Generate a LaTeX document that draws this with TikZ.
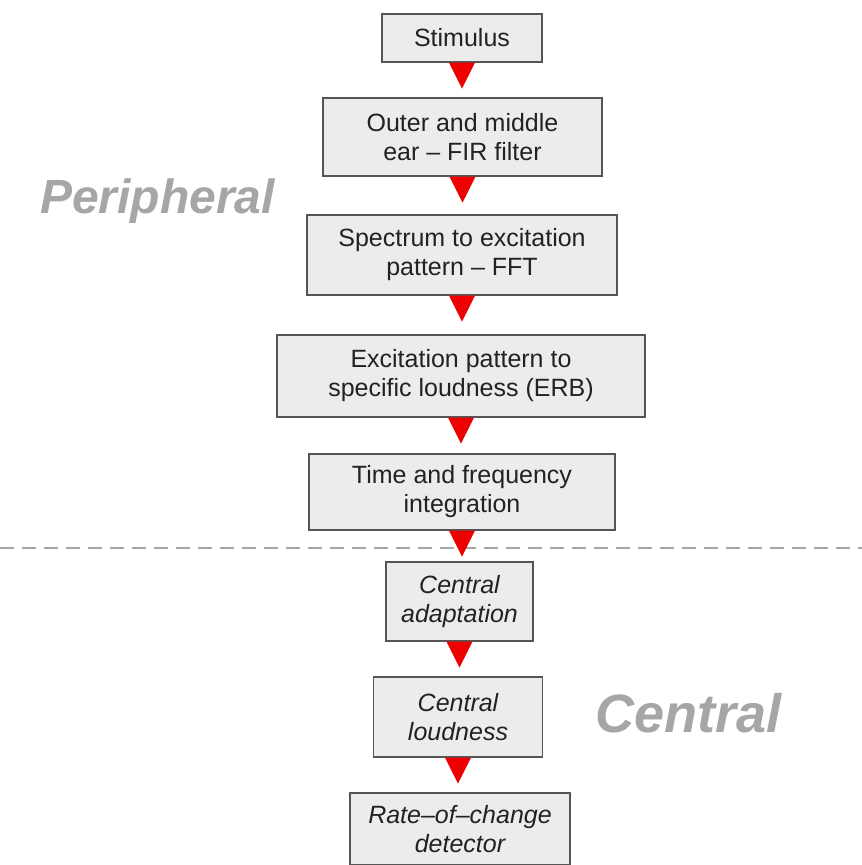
\documentclass[tikz,border=0pt]{standalone}
\usepackage{fontspec}
\setmainfont{Liberation Sans}
\usetikzlibrary{calc,shadows}
\definecolor{boxfill}{HTML}{ECECEC}
\definecolor{boxline}{HTML}{555555}
\definecolor{labelgray}{HTML}{A6A6A6}
\definecolor{arrowred}{HTML}{EE0000}
\definecolor{textdark}{HTML}{222222}
\tikzset{
  stagebox/.style={draw=boxline, line width=1.3pt, fill=boxfill, inner sep=0pt,
    align=center, text=textdark, font=\fontsize{25}{29}\selectfont,
    drop shadow={shadow xshift=0.8pt, shadow yshift=-1.2pt, fill=black!55, opacity=0.8}},
  centralbox/.style={stagebox, font=\fontsize{25}{29}\selectfont\itshape},
  region/.style={text=labelgray, inner sep=0pt, font=\bfseries\itshape},
  flowarrow/.style={fill=arrowred},
  divider/.style={draw=black!35, line width=1.4pt, dash pattern=on 14pt off 8pt}
}
\begin{document}
\begin{tikzpicture}[x=1pt,y=-1pt]
\useasboundingbox (0,0) rectangle (862,865);
\fill[white] (0,0) rectangle (862,865);
\draw[divider] (0,548) -- (862,548);

\node[stagebox, minimum width=160pt, minimum height=48pt] (s1) at (462,38) {Stimulus};
\node[stagebox, minimum width=279pt, minimum height=78pt] (s2) at (462.5,137) {Outer and middle\\ear -- FIR filter};
\node[stagebox, minimum width=310pt, minimum height=80pt] (s3) at (462,255) {Spectrum to excitation\\pattern -- FFT};
\node[stagebox, minimum width=368pt, minimum height=82pt] (s4) at (461,376) {Excitation pattern to\\specific loudness (ERB)};
\node[stagebox, minimum width=306pt, minimum height=76pt] (s5) at (462,492) {Time and frequency\\integration};
\node[centralbox, minimum width=147pt, minimum height=79pt] (s6) at (459.5,601.5) {Central\\adaptation};
\node[centralbox, minimum width=169pt, minimum height=80pt] (s7) at (458,717) {Central\\loudness};
\node[centralbox, minimum width=220pt, minimum height=72pt] (s8) at (460,829) {Rate--of--change\\detector};

\node[region, font=\fontsize{48}{50}\selectfont\bfseries\itshape, anchor=base west] (periph) at (40,213) {Peripheral};
\node[region, font=\fontsize{54}{56}\selectfont\bfseries\itshape, anchor=base west] (central) at (595,732) {Central};

\foreach \a/\b in {s1/s2,s2/s3,s3/s4,s4/s5,s5/s6,s6/s7,s7/s8}{
  \fill[flowarrow] ([xshift=-13pt]\a.south) -- ([xshift=13pt]\a.south)
     -- ($(\a.south)!26pt!(\a.south |- \b.north)$) -- cycle;
}
\end{tikzpicture}
\end{document}
